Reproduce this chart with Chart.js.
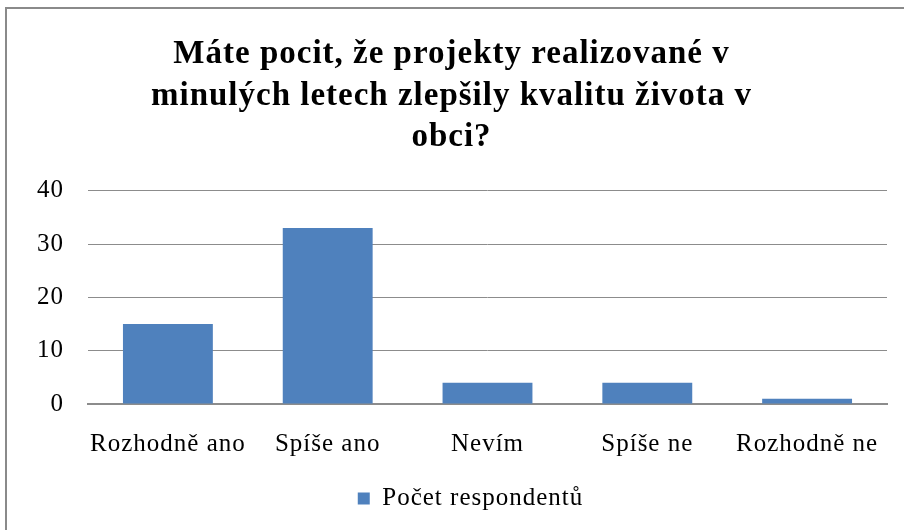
<!DOCTYPE html>
<html>
<head>
<meta charset="utf-8">
<script src="https://cdn.jsdelivr.net/npm/chart.js@4"></script>
<style>
    html, body { margin: 0; padding: 0; background: #fff; overflow: hidden; }
    #frame { position: absolute; left: 5px; top: 7px; width: 1000px; height: 600px; border: 2px solid #8a8a8a; }
    #wrap { position: absolute; left: 0; top: 0; width: 904px; height: 530px; }
</style>
</head>
<body>
<div id="frame"></div>
<div id="wrap"><canvas id="chart" width="904" height="530"></canvas></div>
<script>
// data
const categories = ['Rozhodně ano', 'Spíše ano', 'Nevím', 'Spíše ne', 'Rozhodně ne'];
const respondents = [15, 33, 4, 4, 1];
const seriesName = 'Počet respondentů';
const titleLines = ['Máte pocit, že projekty realizované v', 'minulých letech zlepšily kvalitu života v', 'obci?'];

const serif = '"Liberation Serif", "Times New Roman", serif';
const gridGray = '#8c8c8c';

// the source picture has slightly wide-set text
const bodySpacing = '1px';
const titleSpacing = '1px';

// shift title / legend sideways (they are not centred on the canvas in the source)
function nudge(chart, box, dx, spacing) {
    const orig = box.draw.bind(box);
    box.draw = function (area) {
        const ctx = chart.ctx;
        ctx.save();
        ctx.translate(dx, 0);
        ctx.letterSpacing = spacing;
        orig(area);
        ctx.restore();
        ctx.letterSpacing = bodySpacing;
    };
}

const spacingPlugin = {
    id: 'spacing',
    afterInit(chart) {
        nudge(chart, chart.titleBlock, 8, titleSpacing);
        nudge(chart, chart.legend, 27, bodySpacing);
    },
    beforeUpdate(chart) { chart.ctx.letterSpacing = bodySpacing; },
    beforeDraw(chart) { chart.ctx.letterSpacing = bodySpacing; }
};

new Chart(document.getElementById('chart').getContext('2d'), {
    type: 'bar',
    data: {
        labels: categories,
        datasets: [{
            label: seriesName,
            data: respondents,
            backgroundColor: '#4f81bd',
            borderWidth: 0,
            barPercentage: 0.5625,
            categoryPercentage: 1
        }]
    },
    plugins: [spacingPlugin],
    options: {
        responsive: false,
        animation: false,
        layout: { padding: { top: 34, right: 17, bottom: 9, left: 0 } },
        plugins: {
            title: {
                display: true,
                text: titleLines,
                color: '#000',
                font: { family: serif, size: 33, weight: 'bold', lineHeight: 1.26 },
                padding: { top: 0, bottom: 32 }
            },
            legend: {
                position: 'bottom',
                labels: {
                    color: '#000',
                    font: { family: serif, size: 25 },
                    boxWidth: 12,
                    boxHeight: 12,
                    padding: 10
                }
            },
            tooltip: { enabled: false }
        },
        scales: {
            x: {
                grid: { display: false },
                border: { display: true, color: gridGray, width: 2 },
                ticks: { color: '#000', font: { family: serif, size: 25 }, padding: 17, maxRotation: 0 }
            },
            y: {
                min: 0,
                max: 40,
                grid: { color: gridGray, lineWidth: 1, drawTicks: false },
                border: { display: false },
                ticks: { stepSize: 10, color: '#000', font: { family: serif, size: 25 }, padding: 24 },
                afterFit(axis) { axis.width = 88; }
            }
        }
    }
});
</script>
</body>
</html>
